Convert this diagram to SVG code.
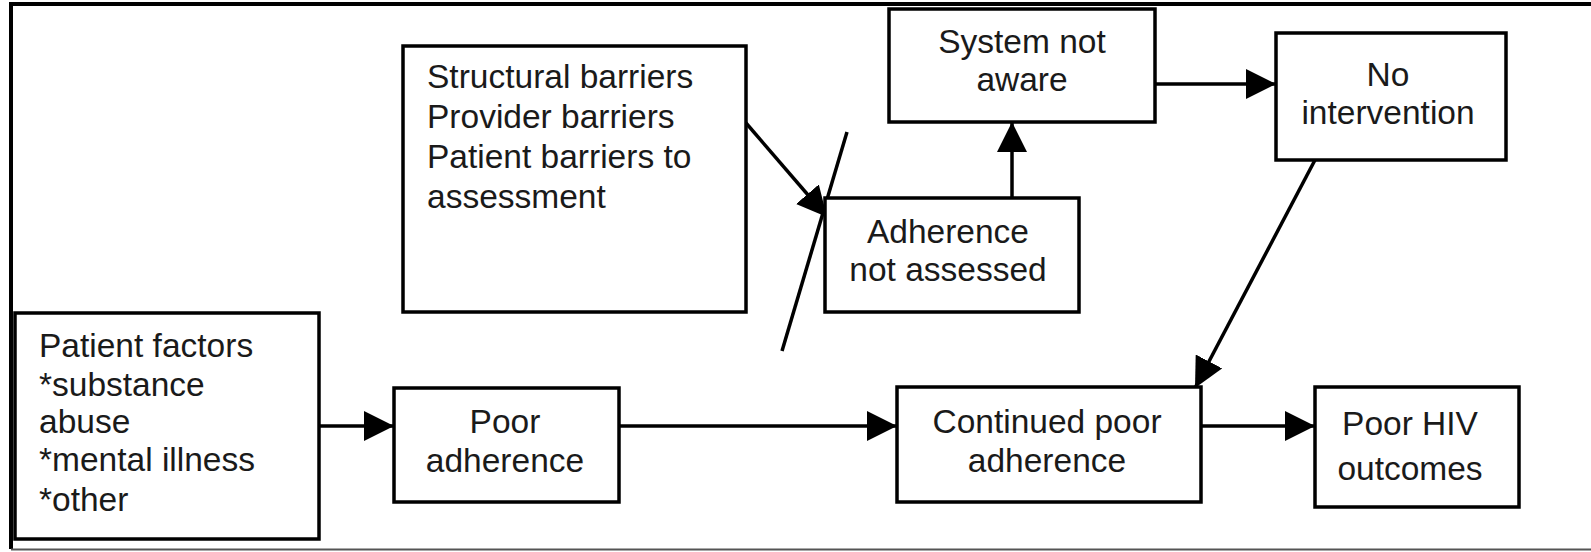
<svg xmlns="http://www.w3.org/2000/svg" width="1591" height="552" viewBox="0 0 1591 552">
<style>
.box{fill:#fff;stroke:#000;stroke-width:3.5}
.t{font-family:"Liberation Sans",Arial,sans-serif;font-size:33.5px;fill:#1a1a1a}
.c{text-anchor:middle}
.ln{stroke:#000;stroke-width:3.5;fill:none}
</style>
<defs>
<marker id="ah" markerUnits="userSpaceOnUse" markerWidth="32" markerHeight="30" refX="30" refY="15" orient="auto">
<path d="M0,0 L30,15 L0,30 Z" fill="#000"/>
</marker>
</defs>
<rect width="1591" height="552" fill="#fff"/>
<path d="M1600,4 H11 V549" fill="none" stroke="#000" stroke-width="4"/>
<path d="M11,549.5 H1600" fill="none" stroke="#555" stroke-width="2"/>
<g id="connectors">
<line class="ln" x1="319" y1="426" x2="394" y2="426" marker-end="url(#ah)"/>
<line class="ln" x1="619" y1="426" x2="897" y2="426" marker-end="url(#ah)"/>
<line class="ln" x1="1201" y1="426" x2="1315" y2="426" marker-end="url(#ah)"/>
<line class="ln" x1="1012" y1="198" x2="1012" y2="122" marker-end="url(#ah)"/>
<line class="ln" x1="1155" y1="84" x2="1276" y2="84" marker-end="url(#ah)"/>
<line class="ln" x1="1315" y1="160" x2="1195" y2="388" marker-end="url(#ah)"/>
<line class="ln" x1="746" y1="123" x2="827" y2="217" marker-end="url(#ah)"/>
<line class="ln" x1="847" y1="132" x2="782" y2="351"/>
</g>
<g id="barriers">
<rect class="box" x="403" y="46" width="343" height="266"/>
<text class="t" x="427" y="88">Structural barriers</text>
<text class="t" x="427" y="128">Provider barriers</text>
<text class="t" x="427" y="168">Patient barriers to</text>
<text class="t" x="427" y="207.5">assessment</text>
</g>
<g id="system">
<rect class="box" x="889" y="9" width="266" height="113"/>
<text class="t c" x="1022" y="53">System not</text>
<text class="t c" x="1022" y="91">aware</text>
</g>
<g id="nointervention">
<rect class="box" x="1276" y="33" width="230" height="127"/>
<text class="t c" x="1388" y="86">No</text>
<text class="t c" x="1388" y="124">intervention</text>
</g>
<g id="notassessed">
<rect class="box" x="825" y="198" width="254" height="114"/>
<text class="t c" x="948" y="243">Adherence</text>
<text class="t c" x="948" y="281">not assessed</text>
</g>
<g id="patient">
<rect class="box" x="15" y="313" width="304" height="226"/>
<text class="t" x="39" y="357">Patient factors</text>
<text class="t" x="39" y="395.5">*substance</text>
<text class="t" x="39" y="433">abuse</text>
<text class="t" x="39" y="471">*mental illness</text>
<text class="t" x="39" y="511">*other</text>
</g>
<g id="poor">
<rect class="box" x="394" y="388" width="225" height="114"/>
<text class="t c" x="505" y="433">Poor</text>
<text class="t c" x="505" y="472">adherence</text>
</g>
<g id="continued">
<rect class="box" x="897" y="387" width="304" height="115"/>
<text class="t c" x="1047" y="433">Continued poor</text>
<text class="t c" x="1047" y="472">adherence</text>
</g>
<g id="outcomes">
<rect class="box" x="1315" y="387" width="204" height="120"/>
<text class="t c" x="1410" y="435">Poor HIV</text>
<text class="t c" x="1410" y="480">outcomes</text>
</g>
</svg>
